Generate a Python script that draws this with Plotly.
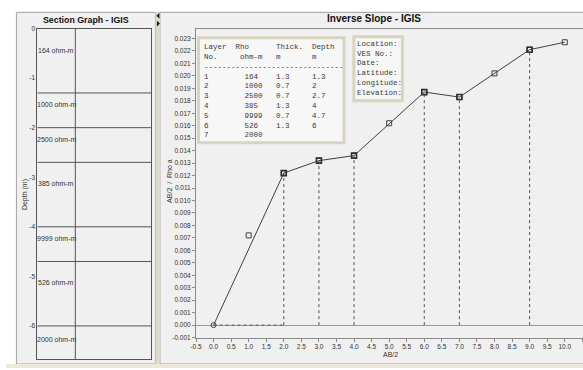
import plotly.graph_objects as go

# ---------------- data ----------------
ab2 = [1, 2, 3, 4, 5, 6, 7, 8, 9, 10]
obs = [0.0072, 0.0122, 0.0132, 0.0136, 0.0162, 0.0187, 0.0183, 0.0202, 0.0221, 0.0227]
brk_x = [0, 2, 3, 4, 6, 7, 9, 10]
brk_y = [0.0, 0.0122, 0.0132, 0.0136, 0.0187, 0.0183, 0.0221, 0.0227]
layer_no = [1, 2, 3, 4, 5, 6, 7]
rho = [164, 1000, 2500, 385, 9999, 526, 2000]
thick = [1.3, 0.7, 0.7, 1.3, 0.7, 1.3]
depth = [1.3, 2, 2.7, 4, 4.7, 6]
info_labels = ["Location:", "VES No.:", "Date:", "Latitude:", "Longitude:", "Elevation:"]
x_tickvals = [-0.5, 0.0, 0.5, 1.0, 1.5, 2.0, 2.5, 3.0, 3.5, 4.0, 4.5, 5.0, 5.5,
              6.0, 6.5, 7.0, 7.5, 8.0, 8.5, 9.0, 9.5, 10.0, 10.5]
y_tickvals = [-0.001, 0.000, 0.001, 0.002, 0.003, 0.004, 0.005, 0.006, 0.007, 0.008,
              0.009, 0.010, 0.011, 0.012, 0.013, 0.014, 0.015, 0.016, 0.017, 0.018,
              0.019, 0.020, 0.021, 0.022, 0.023]
depth_tickvals = [0, -1, -2, -3, -4, -5, -6]
max_depth = 6.67

W, H = 583, 370
def px(v): return v / W
def py(v): return 1 - v / H

GRAY_TXT = "#333333"
AX = "#8a8a8a"
fig = go.Figure()

# -------- left: section graph --------
bx, by = [], []
for d in depth:
    bx += [0, 1, None]
    by += [-d, -d, None]
fig.add_trace(go.Scatter(x=bx, y=by, mode="lines", line=dict(color="#555555", width=1),
                         xaxis="x2", yaxis="y2", hoverinfo="skip"))
fig.add_trace(go.Scatter(x=[1/3, 1/3], y=[0, -max_depth], mode="lines",
                         line=dict(color="#555555", width=1), xaxis="x2", yaxis="y2",
                         hoverinfo="skip"))

# -------- right: inverse slope --------
vx, vy = [], []
for xv, yv in zip(brk_x[1:-1], brk_y[1:-1]):
    vx += [xv, xv, None]
    vy += [0, yv, None]
fig.add_trace(go.Scatter(x=vx, y=vy, mode="lines",
                         line=dict(color="#555555", width=1, dash="dot"), hoverinfo="skip"))
fig.add_trace(go.Scatter(x=[brk_x[0], brk_x[1]], y=[0, 0], mode="lines",
                         line=dict(color="#555555", width=1, dash="dot"), hoverinfo="skip"))
fig.add_trace(go.Scatter(x=brk_x, y=brk_y, mode="lines",
                         line=dict(color="#404040", width=1), hoverinfo="skip"))
fig.add_trace(go.Scatter(x=ab2, y=obs, mode="markers",
                         marker=dict(symbol="square-open", size=5, color="#404040",
                                     line=dict(width=1, color="#404040")), hoverinfo="skip"))
fig.add_trace(go.Scatter(x=brk_x[1:-1], y=brk_y[1:-1], mode="markers",
                         marker=dict(symbol="square-open", size=5, color="#303030",
                                     line=dict(width=1.6, color="#303030")), hoverinfo="skip"))
fig.add_trace(go.Scatter(x=[brk_x[0]], y=[brk_y[0]], mode="markers",
                         marker=dict(symbol="circle-open", size=5, color="#404040",
                                     line=dict(width=1, color="#404040")), hoverinfo="skip"))

annotations = []
def ann(text, x, y, size=7, family="Liberation Sans", xanchor="center", color=GRAY_TXT,
        xref="paper", yref="paper", **kw):
    annotations.append(dict(text=text, x=x, y=y, xref=xref, yref=yref, showarrow=False,
                            xanchor=xanchor, yanchor="middle",
                            font=dict(size=size, family=family, color=color), **kw))

# titles
ann("<b>Section Graph - IGIS</b>", px(81), py(16), size=8.8, color="#111111")
ann("<b>Inverse Slope - IGIS</b>", px(371.5), py(15), size=10, color="#111111")
# axis titles
ann("AB/2", px(388), py(357.5), size=7)
ann("AB/2\u00a0\u00a0/\u00a0\u00a0Rho a", px(165), py(180), size=7, textangle=-90)
ann("Depth (m)", px(20), py(194), size=7, textangle=-90)

# layer labels
tops = [0] + depth
for i, r in enumerate(rho):
    t = thick[i] if i < len(thick) else 0.8
    ann(f"{r} ohm-m", 1/6, -(tops[i] + t / 3), size=7, xref="x2", yref="y2")

# table
nb = "\u00a0"
rows = ["Layer  Rho      Thick.  Depth",
        "No.     ohm-m   m       m",
        "-" * 31]
for i, n in enumerate(layer_no):
    if i < len(thick):
        rows.append(f"{n:<9}{rho[i]:<7}{thick[i]:<8g}{depth[i]:g}")
    else:
        rows.append(f"{n:<9}{rho[i]}")
for k, r in enumerate(rows):
    ann(r.replace(" ", nb), px(198.5), py(44 + 10 * k), size=7.5,
        family="Liberation Mono", xanchor="left", color="#3a3a3a")
for k, r in enumerate(info_labels):
    ann(r, px(352.5), py(40.5 + 10 * k), size=7.5, family="Liberation Mono",
        xanchor="left", color="#3a3a3a")

shapes = [
    dict(type="rect", xref="paper", yref="paper", x0=px(10.5), x1=px(151), y0=py(367),
         y1=py(8.5), line=dict(color="#a0a0a0", width=1), fillcolor="#f0f0f0", layer="below"),
    dict(type="rect", xref="paper", yref="paper", x0=px(155.5), x1=px(600), y0=py(367),
         y1=py(8.5), line=dict(color="#a0a0a0", width=1), fillcolor="#f0f0f0", layer="below"),
    dict(type="rect", xref="paper", yref="paper", x0=px(151), x1=px(155.5), y0=py(367),
         y1=py(8), line=dict(width=0), fillcolor="#dedbc8", layer="below"),
    dict(type="rect", xref="paper", yref="paper", x0=px(0), x1=px(600), y0=py(371),
         y1=py(367), line=dict(width=0), fillcolor="#ece9d8", layer="below"),
    dict(type="rect", xref="paper", yref="paper", x0=px(194.5), x1=px(341.5), y0=py(141.5),
         y1=py(34.5), line=dict(color="#d8d4be", width=3), fillcolor="#f7f7f7", layer="below"),
    dict(type="rect", xref="paper", yref="paper", x0=px(351.5), x1=px(400.5), y0=py(98.5),
         y1=py(33.5), line=dict(color="#d8d4be", width=3), fillcolor="#f7f7f7", layer="below"),
    dict(type="path", xref="paper", yref="paper",
         path=f"M {px(155)} {py(9)} L {px(155)} {py(15)} L {px(152)} {py(12)} Z",
         fillcolor="#111111", line=dict(width=0)),
    dict(type="path", xref="paper", yref="paper",
         path=f"M {px(152.5)} {py(17)} L {px(152.5)} {py(23)} L {px(155.5)} {py(20)} Z",
         fillcolor="#111111", line=dict(width=0)),
]

tickfont = dict(size=6.5, family="Liberation Sans", color=GRAY_TXT)
fig.update_layout(
    width=W, height=H, autosize=False,
    margin=dict(l=0, r=0, t=0, b=0),
    paper_bgcolor="#ffffff", plot_bgcolor="rgba(0,0,0,0)",
    showlegend=False, hovermode=False,
    annotations=annotations, shapes=shapes,
    xaxis=dict(domain=[px(192), 1.0], range=[-0.5, 10.52], anchor="y",
               showline=True, linecolor=AX, linewidth=1, mirror=True,
               ticks="outside", ticklen=3, tickcolor=AX,
               tickvals=x_tickvals, ticktext=[f"{v:.1f}" for v in x_tickvals],
               tickfont=tickfont, showgrid=False, zeroline=False),
    yaxis=dict(domain=[py(340), py(25)], range=[-0.001, 0.0238], anchor="x",
               showline=True, linecolor=AX, linewidth=1,
               ticks="outside", ticklen=3, tickcolor=AX,
               tickvals=y_tickvals, ticktext=[f"{v:.3f}" for v in y_tickvals],
               tickfont=tickfont, showgrid=False,
               zeroline=True, zerolinecolor="#9a9a9a", zerolinewidth=1),
    xaxis2=dict(domain=[px(31.7), px(146.7)], range=[0, 1], anchor="y2",
                showline=True, linecolor="#555555", mirror=True, ticks="",
                showticklabels=False, showgrid=False, zeroline=False),
    yaxis2=dict(domain=[py(362), py(25)], range=[-max_depth, 0], anchor="x2",
                showline=True, linecolor="#555555", mirror=True, ticks="",
                tickvals=depth_tickvals, ticktext=[str(v) for v in depth_tickvals],
                tickfont=tickfont, showgrid=False, zeroline=False),
)

fig.write_html("out.html")
